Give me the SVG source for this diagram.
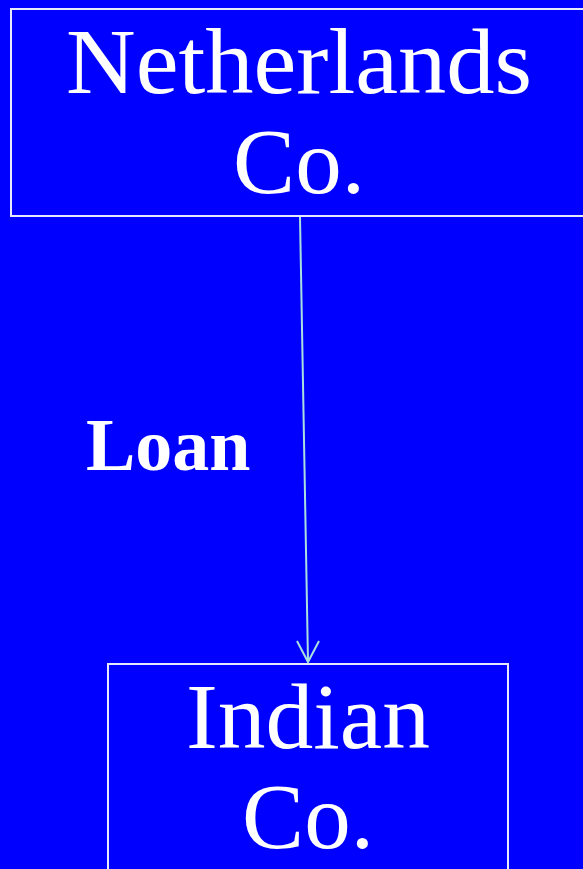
<svg xmlns="http://www.w3.org/2000/svg" width="583" height="869" viewBox="0 0 583 869">
<style>
.box{fill:#0000ff;stroke:#e8e8ff;stroke-width:2}
.t{font-family:"Liberation Serif","DejaVu Serif",serif;fill:#ffffff;font-size:93px;text-anchor:middle}
.lbl{font-family:"Liberation Serif","DejaVu Serif",serif;fill:#ffffff;font-size:74px;font-weight:bold}
.edge{stroke:#a8e0e0;stroke-width:2;fill:none}
</style>
<rect width="583" height="869" fill="#0000ff"/>
<g id="netherlands">
<rect class="box" x="11" y="9" width="580" height="207"/>
<text class="t" x="299" y="93" textLength="466" lengthAdjust="spacingAndGlyphs">Netherlands</text>
<text class="t" x="299" y="193">Co.</text>
</g>
<g id="indian">
<rect class="box" x="108" y="664" width="400" height="220"/>
<text class="t" x="308" y="748" textLength="244" lengthAdjust="spacingAndGlyphs">Indian</text>
<text class="t" x="308" y="848">Co.</text>
</g>
<g id="connectors">
<line class="edge" x1="300" y1="217" x2="308" y2="662"/>
<path class="edge" d="M297,641 L308,662 L319,641"/>
<text class="lbl" x="86" y="470">Loan</text>
</g>
</svg>
